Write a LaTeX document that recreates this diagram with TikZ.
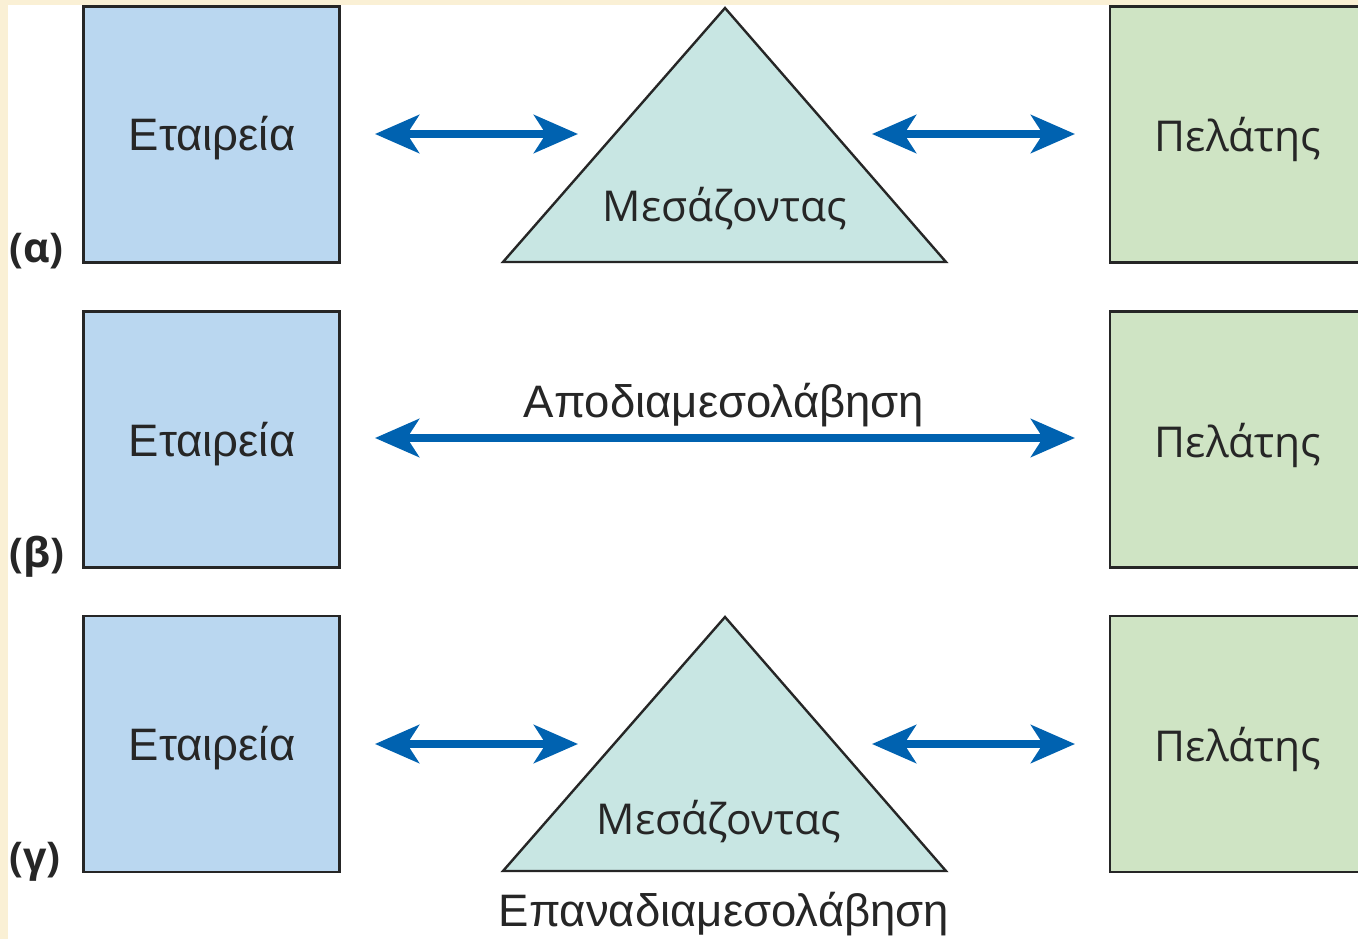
\documentclass[tikz,border=0pt]{standalone}
\usepackage{fontspec}
\setmainfont{Liberation Sans}
\newfontfamily\humfont{Open Sans}
\newfontfamily\tagfont{Open Sans}
\usetikzlibrary{arrows.meta}
\definecolor{cream}{HTML}{FAF0D5}
\definecolor{firmblue}{HTML}{BAD7F0}
\definecolor{clientgreen}{HTML}{CFE4C4}
\definecolor{midteal}{HTML}{C8E6E3}
\definecolor{arrowblue}{HTML}{0062B0}
\definecolor{edge}{HTML}{262626}
\tikzset{
  party/.style={draw=edge, line width=2.6pt, minimum width=256pt, minimum height=256pt, inner sep=0pt},
  firm/.style={party, fill=firmblue},
  client/.style={party, fill=clientgreen},
  broker/.style={draw=edge, line width=2.4pt, fill=midteal, line join=miter},
  plain/.style={font=\fontsize{45.5}{52}\selectfont, text=edge, anchor=base, inner sep=0pt},
  human/.style={font=\humfont\fontsize{42.5}{50}\selectfont, text=edge, anchor=base, inner sep=0pt},
  rowtag/.style={font=\tagfont\bfseries\fontsize{41}{48}\selectfont, text=edge, anchor=base west, inner sep=0pt},
  twoway/.style={arrowblue, line width=7.5pt,
    {Stealth[length=44pt, width=38pt, inset=12pt]}-{Stealth[length=44pt, width=38pt, inset=12pt]}}
}
\begin{document}
\begin{tikzpicture}[x=1pt, y=-1pt]
\useasboundingbox (0,0) rectangle (1358,939);
\clip (0,0) rectangle (1358,939);
% page frame
\fill[cream] (0,0) rectangle (1358,939);
\fill[white] (8,5) rectangle (1358,939);

% ---------- row (a): firm - intermediary - client ----------
\node[firm]   (firmA)   at (211.5,134.5) {};
\node[client] (clientA) at (1238,134.5) {};
\draw[broker] (725,8) coordinate (topA) -- (946,262) coordinate (brA) -- (503,262) coordinate (blA) -- cycle;
\node[plain] (firmAtxt)   at (212,151) {Εταιρεία};
\node[human] (clientAtxt) at (1238,152) {Πελάτης};
\node[human] (brokerA)    at (725,222) {Μεσάζοντας};
\node[rowtag] (tagA) at (9,262) {(α)};
\coordinate (a1) at (375,134);
\coordinate (a2) at (578,134);
\coordinate (a3) at (872,134);
\coordinate (a4) at (1075,134);
\draw[twoway] (a1) -- (a2);
\draw[twoway] (a3) -- (a4);

% ---------- row (b): direct link ----------
\node[firm]   (firmB)   at (211.5,439.5) {};
\node[client] (clientB) at (1238,439.5) {};
\node[plain] (firmBtxt)   at (212,456) {Εταιρεία};
\node[human] (clientBtxt) at (1238,457) {Πελάτης};
\node[rowtag] (tagB) at (9,567) {(β)};
\coordinate (b1) at (375,438);
\coordinate (b2) at (1075,438);
\draw[twoway] (b1) -- (b2);
\node[plain] (disinter) at (724,417) {Αποδιαμεσολάβηση};

% ---------- row (c): new intermediary ----------
\node[firm]   (firmC)   at (211.5,744) {};
\node[client] (clientC) at (1238,744) {};
\draw[broker] (725,617) coordinate (topC) -- (946,871) coordinate (brC) -- (503,871) coordinate (blC) -- cycle;
\node[plain] (firmCtxt)   at (212,760) {Εταιρεία};
\node[human] (clientCtxt) at (1238,761) {Πελάτης};
\node[human] (brokerC)    at (719,834) {Μεσάζοντας};
\node[rowtag] (tagC) at (9,871) {(γ)};
\coordinate (c1) at (375,744);
\coordinate (c2) at (578,744);
\coordinate (c3) at (872,744);
\coordinate (c4) at (1075,744);
\draw[twoway] (c1) -- (c2);
\draw[twoway] (c3) -- (c4);
\node[plain] (reinter) at (724,926) {Επαναδιαμεσολάβηση};
\end{tikzpicture}
\end{document}
